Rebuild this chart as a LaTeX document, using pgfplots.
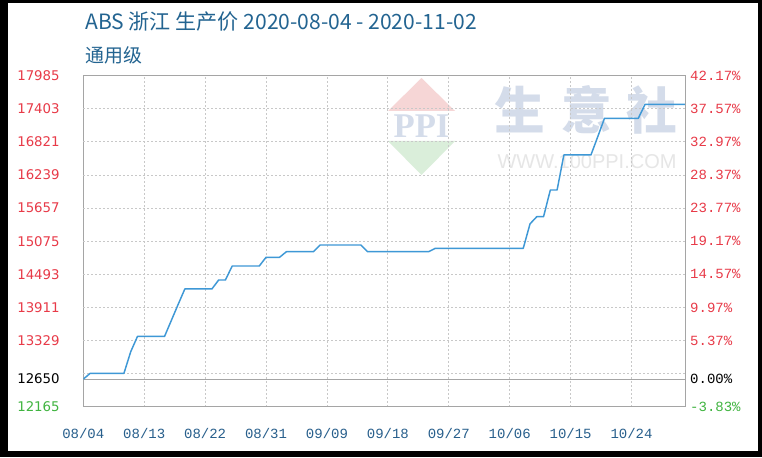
\documentclass[border=0pt]{standalone}
\usepackage{pgfplots}
\pgfplotsset{compat=1.18}
\usepackage{fontspec}
\setmainfont{DejaVu Sans}
\newfontfamily\cjk{Noto Sans CJK SC}
\newfontfamily\monof{Liberation Mono}
\newfontfamily\arialf{Liberation Sans}
\newfontfamily\seriff{Liberation Serif}
\definecolor{lblred}{RGB}{232,58,72}
\definecolor{lblgreen}{RGB}{64,180,64}
\definecolor{lblblue}{RGB}{40,95,140}
\definecolor{titleblue}{RGB}{35,100,145}
\definecolor{linecol}{RGB}{62,152,214}
\definecolor{framegray}{RGB}{165,165,165}
\definecolor{gridgray}{RGB}{200,200,200}
\definecolor{wmred}{RGB}{246,214,214}
\definecolor{wmgreen}{RGB}{218,238,218}
\definecolor{wmblue}{RGB}{212,220,234}
\definecolor{wmgray}{RGB}{230,230,230}
\begin{document}
\begin{tikzpicture}
\fill[black] (0,0) rectangle (571.5pt,342.75pt);
\begin{scope}[x=0.75pt,y=-0.75pt,yshift=342.75pt]
\fill[white] (8,3) rectangle (758,451);
% watermark
\fill[wmred] (388,111) -- (421.5,78) -- (455,111) -- cycle;
\fill[wmgreen] (388,141) -- (455,141) -- (421.5,175) -- cycle;
\node[text=wmblue, font=\seriff\bfseries\fontsize{26}{26}\selectfont, inner sep=0] at (421.5,126) {PPI};
\node[text=wmblue, font=\cjk\bfseries\fontsize{38}{38}\selectfont, inner sep=0] at (520,110) {生};
\node[text=wmblue, font=\cjk\bfseries\fontsize{38}{38}\selectfont, inner sep=0] at (587,110) {意};
\node[text=wmblue, font=\cjk\bfseries\fontsize{38}{38}\selectfont, inner sep=0] at (652,110) {社};
\node[text=wmgray, font=\arialf\fontsize{15}{15}\selectfont, inner sep=0] at (587,162) {WWW.100PPI.COM};
% titles
\node[anchor=west, text=titleblue, font=\cjk\fontsize{15.8}{18}\selectfont, inner sep=0] at (85,22) {ABS 浙江 生产价 2020-08-04 - 2020-11-02};
\node[anchor=west, text=titleblue, font=\cjk\fontsize{14.2}{16}\selectfont, inner sep=0] at (85,55) {通用级};
\end{scope}

\begin{axis}[
  at={(62.475pt,37.725pt)}, anchor=south west, scale only axis,
  width=451.8pt, height=248.25pt,
  xmin=0, xmax=89, ymin=12165, ymax=17985,
  scaled y ticks=false, scaled x ticks=false,
  axis line style={draw=framegray, line width=1pt},
  major tick length=0pt,
  xtick={0,9,18,27,36,45,54,63,72,81},
  xticklabels={08/04,08/13,08/22,08/31,09/09,09/18,09/27,10/06,10/15,10/24},
  xticklabel style={anchor=center, inner sep=0pt, yshift=-20pt, text=lblblue, font=\monof\fontsize{10.5}{12}\selectfont},
  xmajorgrids,
  grid style={gridgray, dash pattern=on 1.5pt off 1.5pt, line width=0.6pt},
  ytick={12165,12650,13329,13911,14493,15075,15657,16239,16821,17403,17985},
  yticklabels={\textcolor{lblgreen}{12165},\textcolor{black}{12650},13329,13911,14493,15075,15657,16239,16821,17403,17985},
  yticklabel style={anchor=east, inner sep=0pt, xshift=-17.5pt, text=lblred, font=\fontsize{10}{12}\selectfont},
  extra y ticks={12747,13329,13911,14493,15075,15657,16239,16821,17403},
  extra y tick labels={},
  extra y tick style={grid=major},
]
\addplot[framegray, line width=0.8pt, forget plot] coordinates {(0,12650) (89,12650)};
\addplot[linecol, line width=1.1pt, line join=round] coordinates {
(0,12650) (1,12750) (6,12750) (7,13130) (8,13400) (12,13400) (13,13680) (14,13960) (15,14235)
(19,14235) (20,14393) (21,14393) (22,14639) (26,14639) (27,14792) (29,14792) (30,14890)
(34,14890) (35,15008) (41,15008) (42,14890) (51,14890) (52,14950) (65,14950) (66,15380)
(67,15506) (68,15506) (69,15975) (70,15975) (71,16591) (75,16591) (76,16910) (77,17236)
(82,17236) (83,17482) (89,17482)
};
\end{axis}

\begin{axis}[
  at={(62.475pt,37.725pt)}, anchor=south west, scale only axis,
  width=451.8pt, height=248.25pt,
  xmin=0, xmax=89, ymin=12165, ymax=17985,
  scaled y ticks=false,
  axis x line=none, axis y line*=right,
  axis line style={draw=framegray, line width=1pt, -},
  major tick length=0pt,
  ytick={12165,12650,13329,13911,14493,15075,15657,16239,16821,17403,17985},
  yticklabels={\textcolor{lblgreen}{-3.83\%},\textcolor{black}{0.00\%},5.37\%,9.97\%,14.57\%,19.17\%,23.77\%,28.37\%,32.97\%,37.57\%,42.17\%},
  yticklabel style={anchor=west, inner sep=0pt, xshift=3.2pt, text=lblred, font=\monof\fontsize{10.5}{12}\selectfont},
]
\addplot[draw=none] coordinates {(0,12650)};
\end{axis}
\pgfresetboundingbox
\useasboundingbox (0,0) rectangle (571.5pt,342.75pt);
\end{tikzpicture}
\end{document}
